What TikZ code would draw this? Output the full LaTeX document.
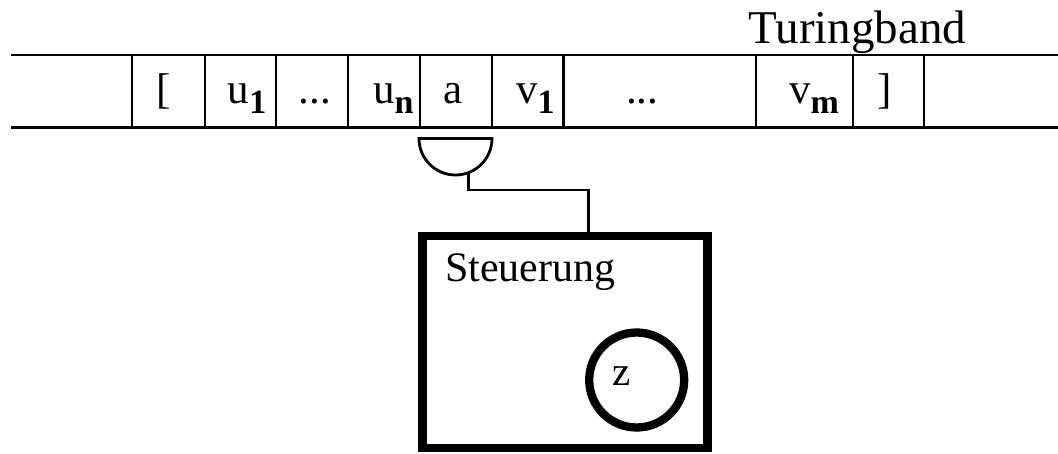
\documentclass[tikz,border=0pt]{standalone}
\usepackage{fontspec}
\setmainfont{Liberation Serif}
\newcommand{\cellfont}{\fontsize{43}{50}\selectfont}
\newcommand{\subs}[1]{\raisebox{-10pt}{\fontsize{34}{40}\selectfont\bfseries #1}}
\begin{document}
\begin{tikzpicture}[x=1pt,y=-1pt,
  tapeline/.style={line width=2.8pt},
  cellbox/.style={draw, line width=2.8pt, minimum height=72.5pt, inner sep=0pt},
  celltext/.style={anchor=base west, inner sep=0pt, font=\cellfont},
  bigtext/.style={anchor=base west, inner sep=0pt},
  headline/.style={line width=2.8pt, line join=miter},
  wire/.style={line width=2.8pt, line join=miter}]
\useasboundingbox (0,0) rectangle (1058,453);
% tape boundary lines
\coordinate (tl) at (11,55);
\coordinate (tr) at (1058,55);
\coordinate (bl) at (11,127.5);
\coordinate (br) at (1058,127.5);
\draw[tapeline] (tl) -- (tr);
\draw[tapeline] (bl) -- (br);
% cells
\node[cellbox, minimum width=73pt] (c0) at (168.5,91.25) {};
\node[cellbox, minimum width=71pt] (c1) at (240.5,91.25) {};
\node[cellbox, minimum width=72pt] (c2) at (312,91.25) {};
\node[cellbox, minimum width=72pt] (c3) at (384,91.25) {};
\node[cellbox, minimum width=72pt] (c4) at (456,91.25) {};
\node[cellbox, minimum width=71.7pt] (c5) at (527.85,91.25) {};
\node[cellbox, minimum width=192.3pt] (c6) at (659.85,91.25) {};
\node[cellbox, minimum width=97pt] (c7) at (804.5,91.25) {};
\node[cellbox, minimum width=71pt] (c8) at (888.5,91.25) {};
% cell texts
\node[celltext] (t0) at (156,103) {[};
\node[celltext] (t1) at (227.6,103) {u\subs{1}};
\node[celltext] (t2) at (298.7,103) {...};
\node[celltext] (t3) at (373,103) {u\subs{n}};
\node[celltext] (t4) at (443.4,103) {a};
\node[celltext] (t5) at (516,103) {v\subs{1}};
\node[celltext] (t6) at (626,103) {...};
\node[celltext] (t7) at (789,103) {v\subs{m}};
\node[celltext] (t8) at (876.8,103) {]};
% title
\node[bigtext, font=\fontsize{47}{53}\selectfont] (title) at (748.5,43.5) {Turingband};
% read/write head
\draw[headline] (419,138.5) -- (492,138.5) arc[start angle=0, end angle=-180, radius=36.5pt] -- cycle;
\coordinate (hd) at (468.3,172.7);
\coordinate (bend) at (588.3,190);
% control unit
\node[draw, line width=8.5pt, minimum width=285pt, minimum height=212pt, inner sep=0pt] (ctrl) at (565,342) {};
\node[bigtext, font=\fontsize{42}{48}\selectfont] (steu) at (445,281.7) {Steuerung};
\node[draw, circle, line width=8.3pt, minimum size=95pt, inner sep=0pt] (state) at (636.7,380) {};
\node[bigtext, font=\fontsize{41}{48}\selectfont] (z) at (612,385) {z};
% wire
\draw[wire] (hd) |- (bend) -- (bend |- ctrl.north);
\end{tikzpicture}
\end{document}
